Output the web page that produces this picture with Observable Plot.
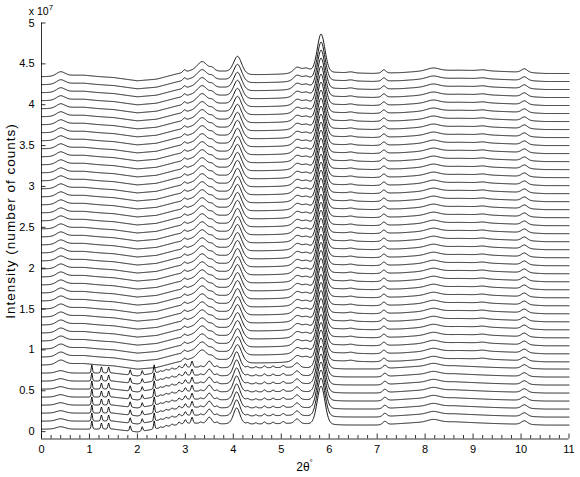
<!DOCTYPE html>
<html><head><meta charset="utf-8">
<script src="https://cdn.jsdelivr.net/npm/d3@7"></script>
<script src="https://cdn.jsdelivr.net/npm/@observablehq/plot@0.6"></script>
<style>
html,body{margin:0;padding:0;background:#fff;}
#chart{width:580px;height:477px;overflow:hidden;}
</style></head><body><div id="chart"></div>
<script>
// ---------- data (intensity in units of 1e7 counts) ----------
// 45 scans, bottom to top; "c" = crystalline pattern, "a" = amorphous/late pattern
const scanPhase = ["c","c","c","c","c","c","c","c",
  "a","a","a","a","a","a","a","a","a","a","a","a","a","a","a","a","a","a","a","a",
  "a","a","a","a","a","a","a","a","a","a","a","a","a","a","a","a","a"];
const scanBaseline0 = 0.03;   // baseline of first scan
const scanStep = 0.098;       // vertical offset between successive scans

// background knots (2θ, relative intensity)
const amorBgX = [0, 0.25, 0.9, 1.5, 2.0, 2.4, 2.8, 3.1, 3.8, 4.35, 5.0, 5.6, 6.2, 6.9, 7.5, 8.0, 8.7, 9.2, 9.8, 10.5, 11];
const amorBgY = [0, 0, 0.008, -0.01, -0.05, -0.03, 0.03, 0.065, 0.06, 0.02, 0.03, 0.05, 0.05, 0.04, 0.05, 0.07, 0.08, 0.075, 0.06, 0.04, 0.04];
const crystBgX = [0, 0.25, 1.5, 2.0, 2.3, 2.6, 3.0, 3.3, 3.8, 4.4, 5.3, 5.6, 6.3, 7.0, 7.8, 8.6, 9.4, 10.5, 11];
const crystBgY = [0, 0, 0, -0.035, -0.005, 0.03, 0.07, 0.07, 0.06, 0.06, 0.07, 0.06, 0.05, 0.05, 0.08, 0.09, 0.07, 0.05, 0.05];

// amorphous-pattern peaks
const amorPeakPos    = [0.40, 0.75, 2.98, 3.35, 3.56, 4.09, 5.33, 5.52, 5.83, 6.45, 7.14, 8.17, 9.20, 10.07];
const amorPeakHeight = [0.055, 0.012, 0.03, 0.12, 0.035, 0.21, 0.07, 0.05, 0.47, 0.012, 0.04, 0.035, 0.01, 0.045];
const amorPeakWidth  = [0.22, 0.6, 0.07, 0.25, 0.12, 0.20, 0.18, 0.18, 0.19, 0.15, 0.10, 0.30, 0.2, 0.15];
const amorPeakEta    = [0.3, 0.3, 0.3, 0.3, 0.3, 0.3, 0.3, 0.3, 0.1, 0.3, 0.3, 0.3, 0.3, 0.3];

// crystalline-pattern peaks
const crystPeakPos    = [0.40, 1.05, 1.25, 1.40, 1.85, 2.10, 2.35, 2.48, 2.60, 2.72, 2.87, 3.00, 3.14, 3.32, 3.50, 3.66, 4.07, 4.30, 4.47, 4.65, 4.83, 5.04, 5.33, 5.83, 7.16, 8.17, 10.07];
const crystPeakHeight = [0.03, 0.10, 0.075, 0.075, 0.065, 0.055, 0.10, 0.012, 0.015, 0.02, 0.03, 0.045, 0.075, 0.015, 0.08, 0.02, 0.20, 0.015, 0.015, 0.025, 0.02, 0.025, 0.055, 0.47, 0.04, 0.035, 0.045];
const crystPeakWidth  = [0.22, 0.03, 0.035, 0.035, 0.035, 0.035, 0.03, 0.04, 0.05, 0.05, 0.05, 0.05, 0.045, 0.06, 0.12, 0.06, 0.16, 0.06, 0.06, 0.06, 0.06, 0.07, 0.12, 0.19, 0.10, 0.30, 0.15];

// axis ticks
const xTicks = [0,1,2,3,4,5,6,7,8,9,10,11];
const xMinorTicks = d3.range(0, 11.001, 0.2).map(v => +v.toFixed(1)).filter(v => Math.abs(v - Math.round(v)) > 1e-6);
const yTicks = [0,0.5,1,1.5,2,2.5,3,3.5,4,4.5,5];
const yMin = -0.09, yMax = 5;

// ---------- build curves ----------
function pv(x, c, h, w, eta) {
  const t = (x - c) / w;
  return h * ((1 - eta) * Math.exp(-4 * Math.LN2 * t * t) + eta / (1 + 4 * t * t));
}
const amorBg = d3.scaleLinear().domain(amorBgX).range(amorBgY);
const crystBg = d3.scaleLinear().domain(crystBgX).range(crystBgY);
const grid = d3.range(0, 1101).map(i => i / 100);

function profile(phase, x) {
  if (phase === "c") {
    let y = crystBg(x);
    for (let k = 0; k < crystPeakPos.length; k++) y += pv(x, crystPeakPos[k], crystPeakHeight[k], crystPeakWidth[k], k === 23 ? 0.1 : 0.3);
    return y;
  } else {
    let y = amorBg(x);
    for (let k = 0; k < amorPeakPos.length; k++) y += pv(x, amorPeakPos[k], amorPeakHeight[k], amorPeakWidth[k], amorPeakEta[k]);
    return y;
  }
}
const rows = [];
scanPhase.forEach((ph, i) => {
  const base = scanBaseline0 + i * scanStep;
  for (const x of grid) rows.push({scan: i, x, y: base + profile(ph, x)});
});

// ---------- plot ----------
const W = 580, H = 477;
const mL = 41, mR = 11.5, mT = 22.5, mB = 38.5;
const pxPerY = (H - mT - mB) / (yMax - yMin);
const pxPerX = (W - mL - mR) / 11;

const chart = Plot.plot({
  width: W, height: H,
  marginLeft: mL, marginRight: mR, marginTop: mT, marginBottom: mB,
  style: {fontFamily: "'Liberation Sans', Arial, Helvetica, sans-serif", fontSize: "11px", background: "#fff", color: "#000"},
  x: {domain: [0, 11]},
  y: {domain: [yMin, yMax]},
  marks: [
    Plot.line(rows, {x: "x", y: "y", z: "scan", stroke: "#000", strokeWidth: 0.9}),
    Plot.ruleX([0], {y1: yMin, y2: yMax, stroke: "#000", strokeWidth: 0.8}),
    Plot.ruleY([yMin], {x1: 0, x2: 11, stroke: "#000", strokeWidth: 0.8}),
    Plot.ruleX(xTicks, {x: d => d, y1: yMin, y2: yMin + 5 / pxPerY, stroke: "#000", strokeWidth: 0.8}),
    Plot.ruleX(xMinorTicks, {x: d => d, y1: yMin, y2: yMin + 3.5 / pxPerY, stroke: "#000", strokeWidth: 0.8}),
    Plot.ruleY(yTicks, {y: d => d, x1: 0, x2: 4.5 / pxPerX, stroke: "#000", strokeWidth: 0.8}),
    Plot.axisX({ticks: xTicks, tickSize: 0, tickPadding: 6, label: null, tickFormat: d => String(d), fontSize: 11}),
    Plot.axisY({ticks: yTicks, tickSize: 0, tickPadding: 7, label: null, tickFormat: d => String(d), fontSize: 11})
  ]
});
document.getElementById("chart").appendChild(chart);

// extra texts
const svg = d3.select(chart);
const ff = "'Liberation Sans', Arial, Helvetica, sans-serif";
const sc = svg.append("text").attr("x", 41).attr("y", 15).attr("font-family", ff).attr("font-size", 10.5).attr("fill", "#000");
sc.append("tspan").text("x 10");
sc.append("tspan").attr("dy", -5).attr("font-size", 8).text("7");

svg.append("text").attr("transform", "translate(14.5,221) rotate(-90)").attr("text-anchor", "middle")
  .attr("font-family", ff).attr("font-size", 13.5).attr("letter-spacing", "1px").attr("fill", "#000").text("Intensity (number of counts)");

const xl = svg.append("text").attr("x", 304.5).attr("y", 470.5).attr("text-anchor", "middle")
  .attr("font-family", ff).attr("font-size", 12).attr("fill", "#000");
xl.append("tspan").text("2θ");
xl.append("tspan").attr("dy", -6).attr("font-size", 8).text("°");
</script>
</body></html>
